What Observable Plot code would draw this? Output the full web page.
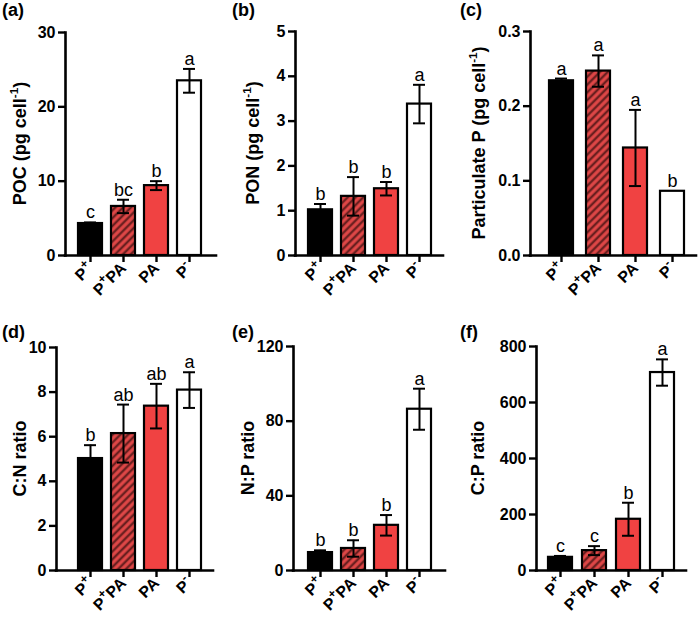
<!DOCTYPE html>
<html><head><meta charset="utf-8">
<script src="https://cdn.jsdelivr.net/npm/d3@7"></script>
<script src="https://cdn.jsdelivr.net/npm/@observablehq/plot@0.6"></script>
<style>
body{margin:0;background:#fff;font-family:"Liberation Sans",Arial,sans-serif;}
#fig{position:relative;width:698px;height:623px;background:#fff;}
#fig svg{position:absolute;overflow:visible;background:transparent;}
</style></head><body><div id="fig"></div>
<script>
const groups = ["P+", "P+PA", "PA", "P-"];
const groupBase = ["P", "P", "PA", "P"];
const groupSup = ["+", "+", "", "-"];
const groupTail = ["", "PA", "", ""];
const groupFills = ["#000000", "hatch", "#f04242", "#ffffff"];

const pocMean = [4.3, 6.6, 9.4, 23.5];
const pocErr = [0.15, 0.9, 0.6, 1.6];
const pocLetters = ["c", "bc", "b", "a"];
const pocTicks = [0, 10, 20, 30];

const ponMean = [1.02, 1.32, 1.49, 3.38];
const ponErr = [0.13, 0.43, 0.15, 0.43];
const ponLetters = ["b", "b", "b", "a"];
const ponTicks = [0, 1, 2, 3, 4, 5];

const ppMean = [0.234, 0.247, 0.144, 0.086];
const ppErr = [0.003, 0.021, 0.051, 0];
const ppLetters = ["a", "a", "a", "b"];
const ppTicks = [0, 0.1, 0.2, 0.3];

const cnMean = [5.02, 6.14, 7.37, 8.09];
const cnErr = [0.6, 1.3, 1.0, 0.8];
const cnLetters = ["b", "ab", "ab", "a"];
const cnTicks = [0, 2, 4, 6, 8, 10];

const npMean = [9.6, 11.8, 24.2, 86.4];
const npErr = [1.2, 4.4, 5.5, 11];
const npLetters = ["b", "b", "b", "a"];
const npTicks = [0, 40, 80, 120];

const cpMean = [47, 71, 183, 707];
const cpErr = [5, 16, 59, 47];
const cpLetters = ["c", "c", "b", "a"];
const cpTicks = [0, 200, 400, 600, 800];

const panels = [
  {id:"a", mean:pocMean, err:pocErr, letters:pocLetters, ticks:pocTicks, fmt:d3.format("d"),
   title:"POC (pg cell", sup:true,
   left:0, top:0, width:230, height:310, mL:65, mR:14, mT:32, mB:55, xRange:[77.5,202], pin:0.284, titleX:20},
  {id:"b", mean:ponMean, err:ponErr, letters:ponLetters, ticks:ponTicks, fmt:d3.format("d"),
   title:"PON (pg cell", sup:true,
   left:230, top:0, width:228, height:310, mL:65, mR:15, mT:31, mB:55, xRange:[77.5,202], pin:0.284, titleX:23},
  {id:"c", mean:ppMean, err:ppErr, letters:ppLetters, ticks:ppTicks, fmt:d3.format(".1f"),
   title:"Particulate P (pg cell", sup:true,
   left:458, top:0, width:240, height:310, mL:72, mR:2, mT:31, mB:55, xRange:[90.5,226], pin:0.355, titleX:21},
  {id:"d", mean:cnMean, err:cnErr, letters:cnLetters, ticks:cnTicks, fmt:d3.format("d"),
   title:"C:N ratio", sup:false,
   left:0, top:310, width:230, height:313, mL:56, mR:17, mT:37, mB:53, xRange:[77.5,202], pin:0.284, titleX:20},
  {id:"e", mean:npMean, err:npErr, letters:npLetters, ticks:npTicks, fmt:d3.format("d"),
   title:"N:P ratio", sup:false,
   left:230, top:310, width:228, height:313, mL:63, mR:13, mT:36, mB:53, xRange:[77.5,202], pin:0.284, titleX:18},
  {id:"f", mean:cpMean, err:cpErr, letters:cpLetters, ticks:cpTicks, fmt:d3.format("d"),
   title:"C:P ratio", sup:false,
   left:458, top:310, width:240, height:313, mL:78, mR:12, mT:36, mB:53, xRange:[90,216.5], pin:0.30, titleX:20}
];

const fig = document.getElementById("fig");
const FONT = '"Liberation Sans", Arial, sans-serif';

for (const cfg of panels) {
  const data = groups.map((g, i) => ({g, mean: cfg.mean[i], err: cfg.err[i], letter: cfg.letters[i]}));
  const withErr = data.filter(d => d.err > 0);
  const hatchId = `hatch-${cfg.id}`;
  const fillRange = groupFills.map(f => f === "hatch" ? `url(#${hatchId})` : f);
  const yMax = cfg.ticks[cfg.ticks.length - 1];

  const plot = Plot.plot({
    width: cfg.width, height: cfg.height,
    marginLeft: cfg.mL, marginRight: cfg.mR, marginTop: cfg.mT, marginBottom: cfg.mB,
    style: {fontFamily: FONT, background: "transparent", overflow: "visible"},
    x: {type: "band", domain: groups, range: cfg.xRange, paddingInner: cfg.pin, paddingOuter: 0, align: 0.5},
    y: {domain: [0, yMax]},
    color: {type: "ordinal", domain: groups, range: fillRange},
    marks: [
      () => {
        const defs = d3.create("svg:defs");
        const p = defs.append("pattern").attr("id", hatchId)
          .attr("patternUnits", "userSpaceOnUse").attr("width", 5.5).attr("height", 5.5)
          .attr("patternTransform", "rotate(45)");
        p.append("rect").attr("width", 5.5).attr("height", 5.5).attr("fill", "#e04747");
        p.append("line").attr("x1", 2.75).attr("y1", 0).attr("x2", 2.75).attr("y2", 5.5)
          .attr("stroke", "#6a1f1f").attr("stroke-width", 2.4);
        return defs.node();
      },
      Plot.barY(data, {x: "g", y: "mean", fill: "g", stroke: "#000", strokeWidth: 2.2}),
      Plot.ruleX(withErr, {x: "g", y1: d => d.mean - d.err, y2: d => d.mean + d.err, strokeWidth: 2}),
      Plot.tickY(withErr, {x: "g", y: d => d.mean + d.err, insetLeft: 6, insetRight: 6, strokeWidth: 2}),
      Plot.tickY(withErr, {x: "g", y: d => d.mean - d.err, insetLeft: 6, insetRight: 6, strokeWidth: 2}),
      Plot.text(data, {x: "g", y: d => d.mean + d.err, text: "letter", lineAnchor: "bottom", dy: -4, fontSize: 18, fill: "#000"}),
      Plot.ruleY([0], {strokeWidth: 2.6, strokeLinecap: "square"}),
      Plot.frame({anchor: "left", strokeWidth: 2.6, strokeLinecap: "square"}),
      Plot.axisY({ticks: cfg.ticks, tickFormat: cfg.fmt, tickSize: 7, tickPadding: 3, strokeWidth: 2.4,
                  fontSize: 16, fontWeight: "bold", label: null}),
      Plot.axisX({tickSize: 7, tickPadding: 3, tickRotate: -45, strokeWidth: 2.4, fontSize: 16, fontWeight: "bold",
                  label: null, ariaLabel: "x-axis"})
    ]
  });

  plot.style.left = cfg.left + "px";
  plot.style.top = cfg.top + "px";
  const svg = d3.select(plot);

  // rich tick labels with superscript signs
  svg.selectAll('g[aria-label="x-axis tick label"] text').each(function() {
    const el = d3.select(this);
    const g = el.text();
    const i = groups.indexOf(g);
    if (i < 0) return;
    el.text(null);
    el.append("tspan").text(groupBase[i]);
    if (groupSup[i]) {
      el.append("tspan").attr("baseline-shift", "super").attr("font-size", "75%").text(groupSup[i]);
    }
    if (groupTail[i]) el.append("tspan").text(groupTail[i]);
  });

  svg.append("text")
    .attr("x", 2).attr("y", cfg.top === 0 ? 16 : 28).attr("text-anchor", "start")
    .attr("font-family", FONT).attr("font-weight", "bold").attr("font-size", 18).attr("fill", "#000")
    .text(`(${cfg.id})`);

  const cy = (cfg.mT + cfg.height - cfg.mB) / 2;
  const t = svg.append("text")
    .attr("transform", `translate(${cfg.titleX},${cy}) rotate(-90)`)
    .attr("text-anchor", "middle").attr("dominant-baseline", "central")
    .attr("font-family", FONT).attr("font-weight", "bold").attr("font-size", 18).attr("fill", "#000");
  t.append("tspan").text(cfg.title);
  if (cfg.sup) {
    t.append("tspan").attr("baseline-shift", "super").attr("font-size", "65%").text("-1");
    t.append("tspan").text(")");
  }
  fig.appendChild(plot);
}
</script>
</body></html>
